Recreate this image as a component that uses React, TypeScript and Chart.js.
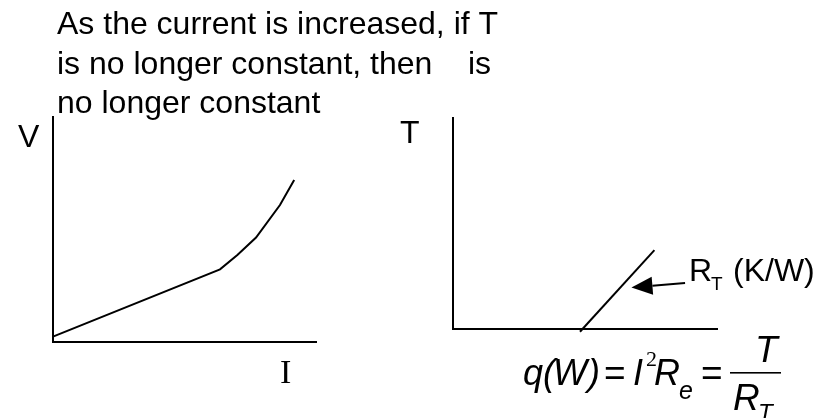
import React, { useEffect, useRef } from "react";
import { Chart, registerables } from "chart.js";

Chart.register(...registerables);

const W = 830;
const H = 418;

// Voltage vs current: linear at first, rising faster once T is no longer constant
const viCurrent = [0, 6.35, 7.01, 7.72, 8.63, 9.17];
const viVoltage = [0.24, 3.23, 3.87, 4.64, 6.09, 7.2];

// Temperature vs dissipated power: slope is the thermal resistance R_T
const tqPower = [4.81, 7.63];
const tqTemp = [-0.13, 3.74];

// Arrow pointing at the R_T line: [tail, tip]
const arrowPower = [8.79, 6.76];
const arrowTemp = [2.18, 1.97];

const captionLines = [
  "As the current is increased, if T",
  "is no longer constant, then",
  "no longer constant",
];
const captionTail = "is";

const SANS = "'Liberation Sans', Arial, sans-serif";
const SERIF = "'Liberation Serif', 'Times New Roman', serif";

function put(ctx: CanvasRenderingContext2D, s: string, x: number, y: number, font: string, align: CanvasTextAlign = "left") {
  ctx.font = font;
  ctx.textAlign = align;
  ctx.textBaseline = "alphabetic";
  ctx.fillStyle = "#000";
  ctx.fillText(s, x, y);
}

const axisScale = (min: number, max: number) => ({
  type: "linear" as const,
  min,
  max,
  grid: { display: false, drawTicks: false },
  ticks: { display: false },
  border: { display: true, color: "#000", width: 2 },
});

const viLabels = {
  id: "viLabels",
  afterDraw(chart: any) {
    const ctx = chart.ctx as CanvasRenderingContext2D;
    const a = chart.chartArea;
    ctx.save();
    put(ctx, captionLines[0], 57, 34, `32px ${SANS}`);
    put(ctx, captionLines[1], 57, 73.5, `32px ${SANS}`);
    put(ctx, captionTail, 468, 73.5, `32px ${SANS}`);
    put(ctx, captionLines[2], 57, 113, `32px ${SANS}`);
    put(ctx, "V", a.left - 35, a.top + 30, `32px ${SANS}`);
    put(ctx, "I", a.left + 227, a.bottom + 41, `34px ${SERIF}`);
    ctx.restore();
  },
};

const tqLabels = {
  id: "tqLabels",
  afterDraw(chart: any) {
    const ctx = chart.ctx as CanvasRenderingContext2D;
    const a = chart.chartArea;
    const xs = chart.scales.x;
    const ys = chart.scales.y;
    ctx.save();
    put(ctx, "T", a.left - 53, a.top + 25, `32px ${SANS}`);

    // arrow
    const tx = xs.getPixelForValue(arrowPower[0]);
    const ty = ys.getPixelForValue(arrowTemp[0]);
    const hx = xs.getPixelForValue(arrowPower[1]);
    const hy = ys.getPixelForValue(arrowTemp[1]);
    const ang = Math.atan2(hy - ty, hx - tx);
    const headLen = 21;
    const headHalf = 9;
    const bx = hx - headLen * Math.cos(ang);
    const by = hy - headLen * Math.sin(ang);
    ctx.strokeStyle = "#000";
    ctx.lineWidth = 2;
    ctx.beginPath();
    ctx.moveTo(tx, ty);
    ctx.lineTo(bx, by);
    ctx.stroke();
    ctx.beginPath();
    ctx.moveTo(hx, hy);
    ctx.lineTo(bx - headHalf * Math.sin(ang), by + headHalf * Math.cos(ang));
    ctx.lineTo(bx + headHalf * Math.sin(ang), by - headHalf * Math.cos(ang));
    ctx.closePath();
    ctx.fillStyle = "#000";
    ctx.fill();

    // R_T (K/W)
    put(ctx, "R", 689, 281, `32px ${SANS}`);
    put(ctx, "T", 711, 290, `19px ${SANS}`);
    put(ctx, "(K/W)", 733, 281, `32px ${SANS}`);

    // q(W) = I²Rₑ = T / R_T
    const it = `italic 36px ${SANS}`;
    const base = 385;
    put(ctx, "q", 523, base, it);
    put(ctx, "(", 543, base, it);
    put(ctx, "W", 553, base, it);
    put(ctx, ")", 588, base, it);
    put(ctx, "=", 604, base, `37px ${SANS}`);
    put(ctx, "I", 633, base, it);
    put(ctx, "2", 646, 366, `22px ${SERIF}`);
    put(ctx, "R", 654, base, it);
    put(ctx, "e", 679, 399, `italic 25px ${SANS}`);
    put(ctx, "=", 701, base, `37px ${SANS}`);
    ctx.fillStyle = "#000";
    ctx.fillRect(730, 372, 51, 1.6);
    put(ctx, "T", 755, 362, `italic 37px ${SANS}`);
    put(ctx, "R", 733, 410, `italic 37px ${SANS}`);
    put(ctx, "T", 758, 421, `italic 24px ${SANS}`);
    ctx.restore();
  },
};

function makeChart(
  canvas: HTMLCanvasElement,
  xs: number[],
  ys: number[],
  padding: { left: number; top: number; right: number; bottom: number },
  plugin: any
) {
  return new Chart(canvas, {
    type: "scatter",
    data: {
      datasets: [
        {
          data: xs.map((x, i) => ({ x, y: ys[i] })),
          showLine: true,
          borderColor: "#000",
          borderWidth: 2,
          pointRadius: 0,
          tension: 0,
          clip: false as any,
        },
      ],
    },
    options: {
      responsive: false,
      animation: false,
      devicePixelRatio: 1,
      events: [],
      layout: { padding },
      plugins: { legend: { display: false }, tooltip: { enabled: false } },
      scales: { x: axisScale(0, 10), y: axisScale(0, 10) },
    },
    plugins: [plugin],
  });
}

export default function App() {
  const leftRef = useRef<HTMLCanvasElement>(null);
  const rightRef = useRef<HTMLCanvasElement>(null);

  useEffect(() => {
    const left = makeChart(
      leftRef.current!,
      viCurrent,
      viVoltage,
      { left: 53, top: 117, right: W - 316, bottom: H - 342 },
      viLabels
    );
    const right = makeChart(
      rightRef.current!,
      tqPower,
      tqTemp,
      { left: 453, top: 118, right: W - 717, bottom: H - 329 },
      tqLabels
    );
    return () => {
      left.destroy();
      right.destroy();
    };
  }, []);

  const canvasStyle: React.CSSProperties = {
    position: "absolute",
    left: 0,
    top: 0,
    width: W,
    height: H,
    display: "block",
  };

  return (
    <div style={{ position: "absolute", left: 0, top: 0, width: W, height: H, background: "#fff", overflow: "hidden" }}>
      <canvas ref={leftRef} width={W} height={H} style={canvasStyle} />
      <canvas ref={rightRef} width={W} height={H} style={canvasStyle} />
    </div>
  );
}
